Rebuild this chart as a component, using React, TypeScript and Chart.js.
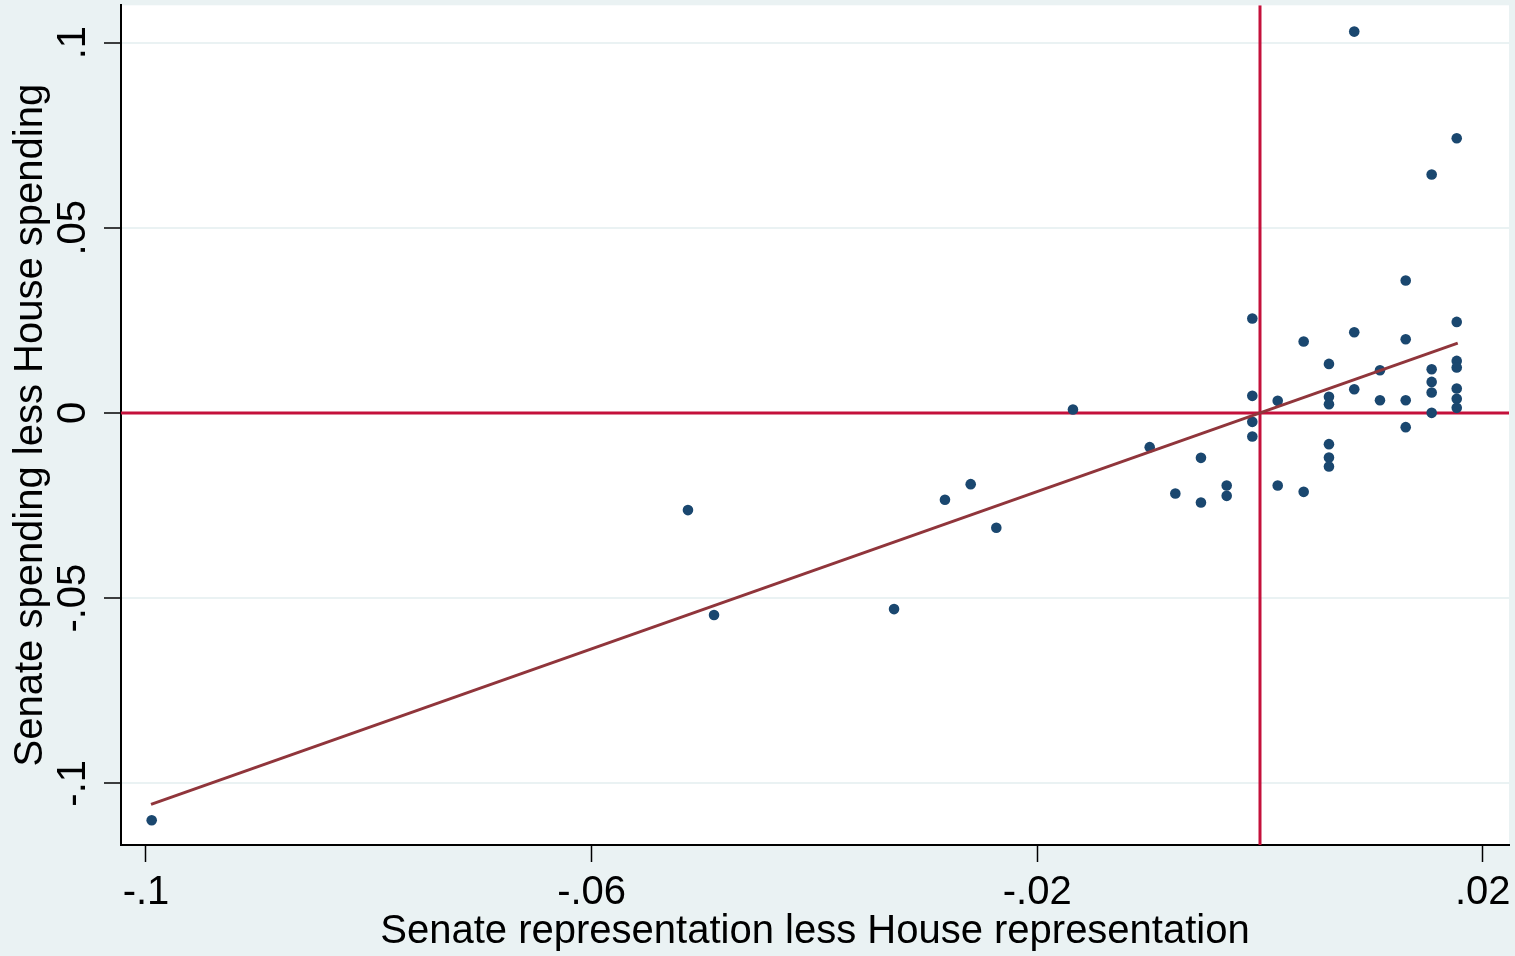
import React, { useEffect, useRef } from 'react';
import { Chart, registerables } from 'chart.js';

Chart.register(...registerables);

// Scatter values (Senate representation less House representation, Senate spending less House spending)
const xValues = [
  0.00846, 0.01766, 0.01541, 0.01308, -0.00069, 0.01766, 0.00846, 0.00392, 0.01308, 0.00619,
  0.01766, 0.01766, 0.01077, 0.01541, 0.01541, 0.00846, 0.01766, 0.01541, -0.00069, 0.00619,
  0.00619, 0.00159, 0.01077, 0.01308, 0.01766, 0.01766, 0.01541, -0.01679, -0.00069, -0.00069,
  0.01308, 0.00619, 0.00619, 0.00619, -0.0099, -0.0053, 0.00159, -0.00299, -0.00299, 0.00392,
  -0.0076, -0.0053, -0.02597, -0.02828, -0.02367, -0.05135, -0.04901, -0.03285, -0.09949,
];
const yValues = [
  0.10297, 0.07417, 0.06437, 0.03576, 0.02551, 0.02459, 0.02181, 0.0193, 0.01992, 0.01325,
  0.01406, 0.01228, 0.01155, 0.01182, 0.00839, 0.00642, 0.00661, 0.00553, 0.00462, 0.00435,
  0.00238, 0.00327, 0.00345, 0.00345, 0.00381, 0.00138, 0.00003, 0.00094, -0.0024, -0.00634,
  -0.00383, -0.00842, -0.01201, -0.01444, -0.00923, -0.01212, -0.01957, -0.01957, -0.02238, -0.0213,
  -0.02173, -0.02416, -0.01922, -0.02345, -0.03101, -0.02623, -0.05457, -0.05296, -0.10999,
];

// Fitted line endpoints
const fitX = [-0.09955, 0.01775];
const fitY = [-0.10567, 0.01884];

// Reference lines
const refX = 0;
const refY = 0;

// Axes
const xRange = [-0.102244, 0.022352];
const yRange = [-0.116653, 0.110067];
const xTicks = [-0.1, -0.06, -0.02, 0.02];
const xTickLabels = ['-.1', '-.06', '-.02', '.02'];
const yTicks = [-0.1, -0.05, 0, 0.05, 0.1];
const yTickLabels = ['-.1', '-.05', '0', '.05', '.1'];
const xTitle = 'Senate representation less House representation';
const yTitle = 'Senate spending less House spending';

const FONT = "'Liberation Sans', Arial, Helvetica, sans-serif";
const OUTER_BG = '#eaf2f3';
const NAVY = '#1a476f';
const MAROON = '#90353b';
const RED = '#c4103b';

const bgPlugin = {
  id: 'stataBg',
  beforeDraw(chart: any) {
    const { ctx, chartArea, width, height } = chart;
    ctx.save();
    ctx.fillStyle = OUTER_BG;
    ctx.fillRect(0, 0, width, height);
    ctx.fillStyle = '#ffffff';
    ctx.fillRect(chartArea.left, chartArea.top, chartArea.right - chartArea.left, chartArea.bottom - chartArea.top);
    ctx.restore();
  },
};

export default function App() {
  const ref = useRef<HTMLCanvasElement>(null);

  useEffect(() => {
    document.body.style.margin = '0';
    const canvas = ref.current;
    if (!canvas) return;
    const points = xValues.map((x, i) => ({ x, y: yValues[i] }));
    const fit = fitX.map((x, i) => ({ x, y: fitY[i] }));
    const hLine = [
      { x: xRange[0], y: refY },
      { x: xRange[1], y: refY },
    ];
    const vLine = [
      { x: refX, y: yRange[0] },
      { x: refX, y: yRange[1] },
    ];

    const chart = new Chart(canvas, {
      type: 'scatter',
      data: {
        datasets: [
          {
            label: 'Fitted values',
            data: fit,
            showLine: true,
            borderColor: MAROON,
            backgroundColor: MAROON,
            borderWidth: 3,
            pointRadius: 0,
            order: 0,
          } as any,
          {
            label: 'Spending',
            data: points,
            backgroundColor: NAVY,
            borderColor: NAVY,
            borderWidth: 0,
            pointRadius: 5.3,
            pointHoverRadius: 5.3,
            order: 1,
          } as any,
          {
            label: 'yline',
            data: hLine,
            showLine: true,
            borderColor: RED,
            borderWidth: 3,
            pointRadius: 0,
            order: 2,
          } as any,
          {
            label: 'xline',
            data: vLine,
            showLine: true,
            borderColor: RED,
            borderWidth: 3,
            pointRadius: 0,
            order: 2,
          } as any,
        ],
      },
      options: {
        animation: false,
        responsive: false,
        devicePixelRatio: 1,
        layout: { padding: { left: 0, top: 5, right: 6, bottom: 0 } },
        plugins: {
          legend: { display: false },
          tooltip: { enabled: false },
        },
        scales: {
          x: {
            type: 'linear',
            position: 'bottom',
            min: xRange[0],
            max: xRange[1],
            bounds: 'data',
            afterBuildTicks: (s: any) => {
              s.ticks = xTicks.map((v) => ({ value: v }));
            },
            afterFit: (s: any) => {
              s.height = 111;
              s.paddingLeft = 0;
              s.paddingRight = 0;
              s.paddingTop = 0;
              s.paddingBottom = 0;
            },
            ticks: {
              callback: (_v: any, i: number) => xTickLabels[i],
              font: { family: FONT, size: 40 },
              color: '#000',
              padding: 6.7,
              minRotation: 0,
              maxRotation: 0,
              autoSkip: false,
            },
            grid: {
              drawOnChartArea: false,
              drawTicks: true,
              tickLength: 17,
              tickColor: '#000',
              tickWidth: 1.5,
            },
            border: { display: true, color: '#000', width: 2 },
            title: {
              display: true,
              text: xTitle,
              font: { family: FONT, size: 40 },
              color: '#000',
              padding: { top: 0, bottom: 0 },
            },
          } as any,
          y: {
            type: 'linear',
            position: 'left',
            min: yRange[0],
            max: yRange[1],
            bounds: 'data',
            afterBuildTicks: (s: any) => {
              s.ticks = yTicks.map((v) => ({ value: v }));
            },
            afterFit: (s: any) => {
              s.width = 121;
              s.paddingLeft = 0;
              s.paddingRight = 0;
              s.paddingTop = 0;
              s.paddingBottom = 0;
            },
            ticks: {
              callback: (_v: any, i: number) => yTickLabels[i],
              font: { family: FONT, size: 40 },
              color: '#000',
              padding: -4.55,
              minRotation: 90,
              maxRotation: 90,
              crossAlign: 'center',
              autoSkip: false,
            },
            grid: {
              drawOnChartArea: true,
              color: OUTER_BG,
              lineWidth: 2,
              tickLength: 17,
              tickColor: '#000',
              tickWidth: 1.5,
            },
            border: { display: true, color: '#000', width: 2 },
            title: {
              display: true,
              text: yTitle,
              font: { family: FONT, size: 40 },
              color: '#000',
              padding: { top: 6.6, bottom: 0 },
            },
          } as any,
        },
      },
      plugins: [bgPlugin],
    });

    return () => chart.destroy();
  }, []);

  return (
    <div style={{ position: 'fixed', left: 0, top: 0, width: 1515, height: 956, background: OUTER_BG }}>
      <canvas ref={ref} width={1515} height={956} style={{ display: 'block', width: 1515, height: 956 }} />
    </div>
  );
}
